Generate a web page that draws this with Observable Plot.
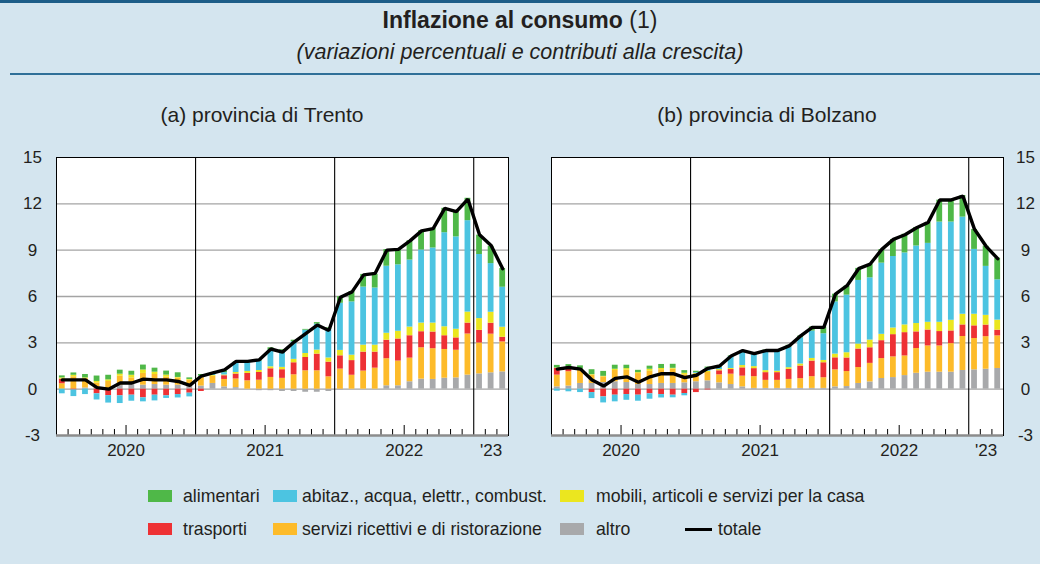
<!DOCTYPE html>
<html><head><meta charset="utf-8">
<script src="https://cdn.jsdelivr.net/npm/d3@7"></script>
<script src="https://cdn.jsdelivr.net/npm/@observablehq/plot@0.6"></script>
<style>
html,body{margin:0;padding:0;background:#d4e5ef;}
#page{position:relative;width:1040px;height:564px;overflow:hidden;background:#d4e5ef;font-family:"Liberation Sans",Arial,Helvetica,sans-serif;color:#231f20;}
.abs{position:absolute;}
#topband{left:0;top:0;width:1040px;height:3px;background:#1d5d88;}
#title{left:0;top:7px;width:1040px;text-align:center;font-size:23px;line-height:26px;}
#subtitle{left:0;top:40px;width:1040px;text-align:center;font-size:21.5px;line-height:24px;font-style:italic;}
#hr{left:10px;top:73px;width:1030px;height:2px;background:#2f6f98;}
.ptitle{top:102px;width:400px;text-align:center;font-size:21px;line-height:26px;}
.lt{font-size:17.7px;line-height:20px;white-space:nowrap;}
.chart{top:140px;}
</style></head>
<body><div id="page">
<div id="topband" class="abs"></div>
<div id="title" class="abs"><b>Inflazione al consumo</b> (1)</div>
<div id="subtitle" class="abs">(variazioni percentuali e contributi alla crescita)</div>
<div id="hr" class="abs"></div>
<div class="abs ptitle" style="left:62px">(a) provincia di Trento</div>
<div class="abs ptitle" style="left:567px">(b) provincia di Bolzano</div>
<div id="left" class="abs chart" style="left:0px"></div>
<div id="right" class="abs chart" style="left:520px"></div>
<div id="legend"></div>
</div>
<script>
// ---- categories, colours, tick labels ----
const categories = ["alimentari","abitaz., acqua, elettr., combust.","mobili, articoli e servizi per la casa","trasporti","servizi ricettivi e di ristorazione","altro"];
const colors = ["#4fb848","#4cc4e1","#ebe61f","#ee3134","#fdbb2a","#a8a9ab"];
const stackOrder = ["altro","servizi ricettivi e di ristorazione","trasporti","mobili, articoli e servizi per la casa","abitaz., acqua, elettr., combust.","alimentari"];
const months = d3.utcMonth.range(new Date(Date.UTC(2020,0,1)), new Date(Date.UTC(2023,3,1))).map(d3.utcFormat("%Y-%m"));
const yearLabels = ["2020","2021","2022","'23"];
const yTicks = [-3,0,3,6,9,12,15];

// ---- (a) provincia di Trento ----
const trentoAlimentari = [0.13,0.15,0.22,0.35,0.3,0.26,0.26,0.32,0.26,0.26,0.3,0.1, 0.1,0.05,0.12,0.05,0.06,0.05,0.15,0.05,0.1,0.05,0.1,0.1, 0.43,0.67,0.82,0.89,1.08,1.0,1.25,1.25,1.27,1.58,1.66,1.45, 1.25,1.12,1.21];
const trentoAbitaz = [-0.3,-0.43,-0.35,-0.4,-0.48,-0.5,-0.39,-0.26,-0.37,-0.17,-0.22,-0.24, 0.05,0.1,0.15,0.63,0.56,0.6,1.08,1.1,1.14,1.51,1.68,1.85, 3.05,3.45,3.76,3.7,4.34,4.3,4.34,4.73,4.86,6.09,5.98,5.92, 4.15,3.15,2.59];
const trentoMobili = [0.08,0.1,0.05,0.1,0.1,0.13,0.17,0.22,0.15,0.13,0.05,0.05, 0.05,0.05,0.05,0.1,0.13,0.13,0.13,0.15,0.22,0.26,0.26,0.27, 0.35,0.35,0.45,0.45,0.45,0.5,0.56,0.56,0.58,0.58,0.56,0.71, 0.76,0.71,0.65];
const trentoTrasporti = [0.3,-0.05,0,-0.3,-0.42,-0.43,-0.39,-0.56,-0.39,-0.43,-0.35,-0.26, -0.15,0,0.24,0.32,0.48,0.5,0.56,0.56,0.78,0.86,1.08,0.95, 0.86,0.95,1.23,1.04,1.2,1.43,1.45,1.04,1.08,0.89,0.8,0.71, 0.82,0.71,0.3];
const trentoServizi = [0.35,0.8,0.6,0.35,0.5,0.58,0.43,0.76,0.65,0.52,0.45,0.32, 0.55,0.47,0.48,0.56,0.54,0.58,0.76,0.7,0.93,1.19,1.19,0.8, 1.3,0.9,1.17,1.36,1.75,1.6,1.53,2.03,1.99,1.86,1.79,2.66, 2.0,2.5,1.94];
const trentoAltro = [0,0,0.08,0.05,0,0.26,0.3,0.26,0.3,0.26,0.26,0.26, 0.2,0.37,0.15,0.1,0,-0.1,-0.1,-0.15,-0.15,-0.2,-0.2,-0.15, -0.05,0,0,0,0.22,0.22,0.48,0.65,0.63,0.71,0.73,0.91, 0.99,1.06,1.12];
const trentoTotale = [0.6,0.6,0.6,0.1,0.0,0.4,0.4,0.65,0.6,0.6,0.5,0.25, 0.85,1.05,1.25,1.8,1.8,1.9,2.6,2.4,3.05,3.6,4.15,3.8, 5.95,6.3,7.4,7.5,9.0,9.05,9.6,10.25,10.4,11.7,11.5,12.3, 10.0,9.3,7.8];

// ---- (b) provincia di Bolzano ----
const bolzanoAlimentari = [0.17,0.17,0.22,0.32,0.32,0.26,0.22,0.15,0.2,0.26,0.26,0.17, 0.08,0.07,0.08,0.05,0.1,0.05,0.06,0.09,0.11,0.11,0.26,0.43, 0.5,0.58,0.78,0.86,0.88,1.1,1.21,1.19,1.34,1.42,1.42,1.4, 1.29,1.31,1.4];
const bolzanoAbitaz = [-0.13,-0.17,-0.22,-0.39,-0.39,-0.43,-0.37,-0.39,-0.35,-0.22,-0.17,-0.15, 0.05,0.2,0.17,0.76,0.84,0.8,1.27,1.27,1.34,1.7,1.77,1.73, 3.38,3.73,4.12,4.03,4.61,4.63,4.66,5.02,5.11,6.49,6.36,6.29, 4.2,3.17,2.61];
const bolzanoMobili = [0.03,0.03,0.08,0.03,0.03,0.08,0.1,0.06,0.13,0.08,0.05,0.1, 0.05,0.08,0.08,0.07,0.15,0.13,0.13,0.09,0.11,0.13,0.17,0.15, 0.24,0.34,0.32,0.5,0.41,0.43,0.5,0.54,0.5,0.6,0.69,0.69, 0.75,0.63,0.65];
const bolzanoTrasporti = [0.43,0.26,0,-0.22,-0.5,-0.39,-0.35,-0.39,-0.3,-0.35,-0.39,-0.28, -0.22,-0.05,0.26,0.3,0.54,0.52,0.5,0.5,0.65,0.82,1.01,0.97, 0.78,0.88,1.2,1.01,1.16,1.44,1.51,1.08,1.03,0.93,0.82,0.75, 0.82,0.75,0.37];
const bolzanoServizi = [0.76,0.93,0.84,0.54,0.37,0.73,0.8,0.71,0.86,0.89,0.93,0.52, 0.5,0.54,0.52,0.67,0.69,0.76,0.52,0.52,0.58,0.63,0.76,0.69, 1.1,0.97,1.03,1.2,1.29,1.34,1.27,1.6,1.7,1.7,1.85,2.2, 2.03,2.11,2.11];
const bolzanoAltro = [0.15,0.2,0.37,0.37,0.43,0.48,0.43,0.3,0.3,0.37,0.37,0.41, 0.48,0.54,0.41,0.3,0.15,0.05,0.05,0.05,0.05,0.05,0.05,0.05, 0.15,0.17,0.37,0.47,0.69,0.75,0.88,1.03,1.1,1.1,1.1,1.21, 1.25,1.29,1.34];
const bolzanoTotale = [1.3,1.4,1.3,0.6,0.2,0.7,0.8,0.45,0.8,1.0,1.0,0.75, 0.9,1.35,1.5,2.15,2.5,2.3,2.5,2.5,2.8,3.45,4.0,4.0, 6.15,6.7,7.8,8.1,9.05,9.7,10.0,10.45,10.8,12.25,12.25,12.5, 10.35,9.25,8.45];

const trento = {"alimentari":trentoAlimentari,"abitaz., acqua, elettr., combust.":trentoAbitaz,"mobili, articoli e servizi per la casa":trentoMobili,"trasporti":trentoTrasporti,"servizi ricettivi e di ristorazione":trentoServizi,"altro":trentoAltro};
const bolzano = {"alimentari":bolzanoAlimentari,"abitaz., acqua, elettr., combust.":bolzanoAbitaz,"mobili, articoli e servizi per la casa":bolzanoMobili,"trasporti":bolzanoTrasporti,"servizi ricettivi e di ristorazione":bolzanoServizi,"altro":bolzanoAltro};

const FONT = '"Liberation Sans",Arial,Helvetica,sans-serif';
const years = [...new Set(months.map(m => m.slice(0,4)))];
const yearMid = years.map(y => { const idx = months.map((m,i)=>[m,i]).filter(([m])=>m.startsWith(y)).map(([,i])=>i); return (idx[0] + idx[idx.length-1] + 1) / 2; });
const yearStarts = months.map((m,i)=>[m,i]).filter(([m,i]) => i > 0 && m.endsWith("-01")).map(([,i]) => i);
const midYear = months.map((m,i)=>[m,i]).filter(([m]) => m.endsWith("-07")).map(([,i]) => i);
const monthTicks = months.map((m,i)=>i).filter(i => i > 0 && !yearStarts.includes(i) && !midYear.includes(i));

const H = 330, MT = 17, MB = 35;
const yMin = yTicks[0], yMax = yTicks[yTicks.length - 1];
const unitsPerPx = (yMax - yMin) / (H - MT - MB);

function panel(series, total, side) {
  const rows = [];
  months.forEach((m, i) => stackOrder.forEach(k => rows.push({i, month: m, cat: k, value: series[k][i]})));
  const tot = months.map((m, i) => ({i, value: total[i]}));
  const left = side === "left";
  return Plot.plot({
    width: 520, height: H,
    marginLeft: left ? 56 : 31, marginRight: left ? 12 : 37, marginTop: MT, marginBottom: MB,
    x: {type: "linear", domain: [0, months.length], axis: null},
    y: {domain: [yMin, yMax], axis: null},
    color: {domain: categories, range: colors},
    style: {background: "transparent", fontFamily: FONT, overflow: "visible"},
    marks: [
      Plot.frame({fill: "white", stroke: null}),
      Plot.ruleY(yTicks.filter(v => v > yMin && v < yMax), {stroke: "#a4a4a4", strokeWidth: 1.4}),
      Plot.rectY(rows, {x: "i", interval: 1, y: "value", fill: "cat", insetLeft: 2.9, insetRight: 2.9}),
      Plot.ruleX(yearStarts, {x: d => d, stroke: "black", strokeWidth: 1.1}),
      Plot.lineY(tot, {x: d => d.i + 0.5, y: "value", stroke: "black", strokeWidth: 3.4, strokeLinejoin: "miter"}),
      Plot.ruleX(monthTicks, {x: d => d, y1: yMin, y2: yMin + 6 * unitsPerPx, stroke: "black", strokeWidth: 1}),
      Plot.ruleX(midYear, {x: d => d, y1: yMin, y2: yMin + 10 * unitsPerPx, stroke: "black", strokeWidth: 1}),
      Plot.frame({stroke: "black", strokeWidth: 1}),
      Plot.ruleY([yMin], {stroke: "#8c8c8c", strokeWidth: 2.5}),
      Plot.text(yTicks, {y: d => d, text: d => String(d), frameAnchor: left ? "left" : "right", dx: left ? -24 : 22, textAnchor: "middle", fontSize: 17, fill: "#231f20"}),
      Plot.text(yearLabels, {x: (d, i) => yearMid[i], text: d => d, frameAnchor: "bottom", dy: 20, fontSize: 17, fill: "#231f20"})
    ]
  });
}
document.getElementById("left").appendChild(panel(trento, trentoTotale, "left"));
document.getElementById("right").appendChild(panel(bolzano, bolzanoTotale, "right"));

// ---- legend ----
const legendItems = [
  {label: categories[0], color: colors[0], x: 148, tx: 183, y: 496},
  {label: categories[1], color: colors[1], x: 273, tx: 302, y: 496},
  {label: categories[2], color: colors[2], x: 560, tx: 596, y: 496},
  {label: categories[3], color: colors[3], x: 148, tx: 183, y: 529},
  {label: categories[4], color: colors[4], x: 273, tx: 302, y: 529},
  {label: categories[5], color: colors[5], x: 560, tx: 596, y: 529},
  {label: "totale", color: "black", x: 685, tx: 718, y: 529, line: true}
];
const lg = document.getElementById("legend");
legendItems.forEach(it => {
  const s = document.createElement("div");
  s.className = "abs";
  if (it.line) { s.style.cssText = `left:${it.x}px;top:${it.y-1}px;width:27px;height:3px;background:${it.color}`; }
  else { s.style.cssText = `left:${it.x}px;top:${it.y-6}px;width:24px;height:12px;background:${it.color}`; }
  lg.appendChild(s);
  const t = document.createElement("div");
  t.className = "abs lt";
  t.style.cssText = `left:${it.tx}px;top:${it.y-10}px`;
  t.textContent = it.label;
  lg.appendChild(t);
});
</script>
</body></html>
